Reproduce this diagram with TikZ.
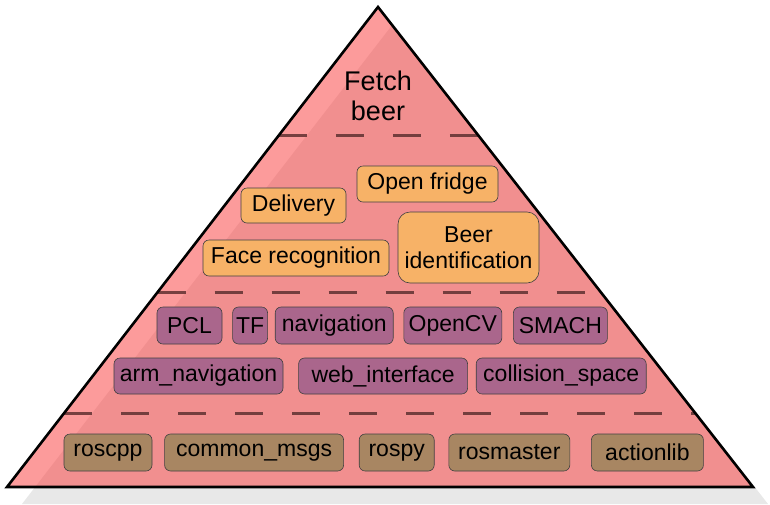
\documentclass[tikz,border=0pt]{standalone}
\usepackage{fontspec}
\setmainfont{Liberation Sans}
\usetikzlibrary{positioning, calc}

\definecolor{pyrfill}{RGB}{250,55,55}
\definecolor{shadowgray}{RGB}{232,232,232}
\definecolor{taskorange}{RGB}{247,178,103}
\definecolor{stackpurple}{RGB}{170,102,140}
\definecolor{corebrown}{RGB}{168,134,98}
\definecolor{tierdash}{RGB}{75,35,35}

\begin{document}
\begin{tikzpicture}[
    x=1pt, y=-1pt,
    node distance=10pt,
    pkg/.style={rectangle, rounded corners=6pt, draw=black!75, line width=0.6pt,
                inner xsep=3pt, inner ysep=0pt, align=center,
                font=\fontsize{23}{26}\selectfont},
    task/.style={pkg, fill=taskorange, minimum height=36pt},
    stack/.style={pkg, fill=stackpurple, minimum height=37pt},
    core/.style={pkg, fill=corebrown, minimum height=37pt},
    tierline/.style={draw=tierdash, draw opacity=0.75, line width=3pt,
                     dash pattern=on 28pt off 29pt}
]
\useasboundingbox (0,0) rectangle (770,504);

% pyramid with its shadow
\coordinate (apex) at (378,7);
\coordinate (bl) at (7,487);
\coordinate (br) at (753,487);
\fill[shadowgray] ($(apex)+(15,17)$) -- ($(bl)+(15,17)$) -- ($(br)+(15,17)$) -- cycle;
\fill[pyrfill, fill opacity=0.5] (apex) -- (bl) -- (br) -- cycle;

% tier separators
\draw[tierline] ($(apex)!0.267!(bl)$) -- ($(apex)!0.267!(br)$);
\draw[tierline] ($(apex)!0.594!(bl)$) -- ($(apex)!0.594!(br)$);
\draw[tierline] ($(apex)!0.846!(bl)$) -- ($(apex)!0.846!(br)$);

\draw[line width=2.6pt, line join=miter] (apex) -- (bl) -- (br) -- cycle;

% top
\node[align=center, font=\fontsize{27}{30}\selectfont] (goal) at (378,96) {Fetch\\beer};

% tasks
\node[task, minimum width=141pt] (fridge) at (427.5,184) {Open fridge};
\node[task, minimum width=105pt, minimum height=35pt] (delivery) at (293.5,205.5) {Delivery};
\node[task, minimum width=186pt] (face) at (296,258) {Face recognition};
\node[task, minimum width=141pt, minimum height=71pt, rounded corners=12pt] (beer) at (468.5,247.5) {Beer\\identification};

% libraries
\node[stack, minimum width=65pt] (pcl) at (189.5,325.5) {PCL};
\node[stack, minimum width=35pt, right=10pt of pcl] (tf) {TF};
\node[stack, minimum width=118pt, right=7pt of tf] (nav) {navigation};
\node[stack, minimum width=98pt, right=10pt of nav] (opencv) {OpenCV};
\node[stack, minimum width=94pt, right=11pt of opencv] (smach) {SMACH};

\node[stack, minimum width=169pt, minimum height=36pt] (armnav) at (198.5,376) {arm\_navigation};
\node[stack, minimum width=169pt, minimum height=36pt, right=15pt of armnav] (webif) {web\_interface};
\node[stack, minimum width=170pt, minimum height=36pt, right=8pt of webif] (collision) {collision\_space};

% core
\node[core, minimum width=88pt] (roscpp) at (108,452.5) {roscpp};
\node[core, minimum width=179pt, right=12pt of roscpp] (msgs) {common\_msgs};
\node[core, minimum width=75pt, right=15pt of msgs] (rospy) {rospy};
\node[core, minimum width=121pt, right=14pt of rospy] (master) {rosmaster};
\node[core, minimum width=112pt, right=21pt of master] (actionlib) {actionlib};

\end{tikzpicture}
\end{document}
